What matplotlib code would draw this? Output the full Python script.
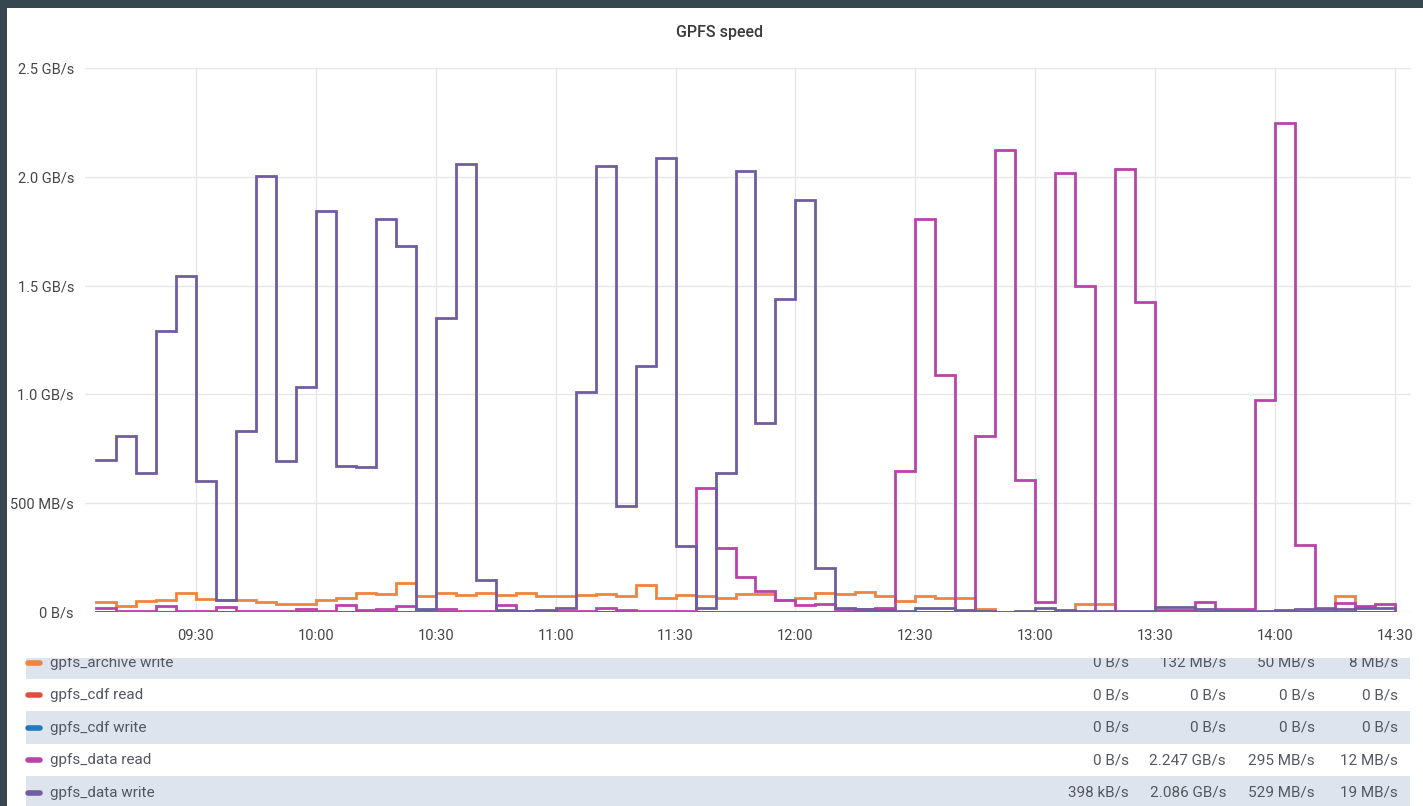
import matplotlib
matplotlib.use("Agg")
import matplotlib.pyplot as plt
import pandas as pd
from matplotlib.patches import Rectangle

# ---------------- data ----------------
times = pd.date_range("2021-01-01 09:05", "2021-01-01 14:30", freq="5min")

# GB/s, one value per 5-minute sample
archive_write = [0.044, 0.026, 0.052, 0.055, 0.089, 0.058, 0.053, 0.055, 0.046, 0.036,
                 0.039, 0.055, 0.066, 0.089, 0.083, 0.132, 0.075, 0.089, 0.079, 0.089,
                 0.077, 0.088, 0.072, 0.072, 0.077, 0.082, 0.072, 0.123, 0.066, 0.077,
                 0.072, 0.065, 0.085, 0.085, 0.057, 0.066, 0.088, 0.082, 0.092, 0.072,
                 0.050, 0.072, 0.066, 0.066, 0.015, 0.0, 0.0, 0.0, 0.0, 0.035,
                 0.035, 0.0, 0.0, 0.0, 0.0, 0.0, 0.0, 0.0, 0.0, 0.0,
                 0.0, 0.0, 0.075, 0.0, 0.0, 0.008]
cdf_read = [0.0] * 66
cdf_write = [0.0] * 66
data_read = [0.020, 0.004, 0.004, 0.026, 0.004, 0.004, 0.023, 0.004, 0.004, 0.004,
             0.015, 0.004, 0.034, 0.008, 0.015, 0.026, 0.004, 0.015, 0.004, 0.004,
             0.034, 0.004, 0.004, 0.004, 0.004, 0.020, 0.008, 0.004, 0.004, 0.004,
             0.570, 0.295, 0.160, 0.097, 0.054, 0.031, 0.038, 0.012, 0.012, 0.020,
             0.650, 1.805, 1.089, 0.0, 0.810, 2.123, 0.608, 0.046, 2.018, 1.500,
             0.0, 2.038, 1.423, 0.010, 0.010, 0.047, 0.012, 0.012, 0.972, 2.247,
             0.308, 0.020, 0.040, 0.028, 0.038, 0.012]
data_write = [0.700, 0.808, 0.638, 1.292, 1.542, 0.600, 0.054, 0.834, 2.003, 0.695,
              1.035, 1.842, 0.672, 0.665, 1.808, 1.680, 0.012, 1.349, 2.057, 0.149,
              0.008, 0.006, 0.008, 0.020, 1.010, 2.050, 0.485, 1.130, 2.086, 0.305,
              0.020, 0.638, 2.028, 0.869, 1.438, 1.895, 0.203, 0.020, 0.015, 0.010,
              0.006, 0.018, 0.018, 0.008, 0.004, 0.0004, 0.004, 0.020, 0.008, 0.006,
              0.005, 0.004, 0.006, 0.022, 0.022, 0.012, 0.006, 0.004, 0.005, 0.010,
              0.014, 0.016, 0.016, 0.018, 0.018, 0.019]

series_names = ["gpfs_archive write", "gpfs_cdf read", "gpfs_cdf write",
                "gpfs_data read", "gpfs_data write"]
series_values = [archive_write, cdf_read, cdf_write, data_read, data_write]
series_colors = ["#EF843C", "#E24D42", "#1F78C1", "#BA43A9", "#705DA0"]

legend_min = ["0 B/s", "0 B/s", "0 B/s", "0 B/s", "398 kB/s"]
legend_max = ["132 MB/s", "0 B/s", "0 B/s", "2.247 GB/s", "2.086 GB/s"]
legend_avg = ["50 MB/s", "0 B/s", "0 B/s", "295 MB/s", "529 MB/s"]
legend_cur = ["8 MB/s", "0 B/s", "0 B/s", "12 MB/s", "19 MB/s"]

y_ticks = [0.0, 0.5, 1.0, 1.5, 2.0, 2.5]
y_tick_labels = ["0 B/s", "500 MB/s", "1.0 GB/s", "1.5 GB/s", "2.0 GB/s", "2.5 GB/s"]
x_tick_times = ["09:30", "10:00", "10:30", "11:00", "11:30", "12:00", "12:30",
                "13:00", "13:30", "14:00", "14:30"]
title = "GPFS speed"

# ---------------- figure ----------------
plt.rcParams["font.family"] = ["Roboto", "DejaVu Sans"]
W, H = 1423, 806
fig = plt.figure(figsize=(W / 100, H / 100), dpi=100)
fig.patch.set_facecolor("#37474F")

# white panel
bg = fig.add_axes([7 / W, 0, 1 - 7 / W, 1 - 8 / H], zorder=-5)
bg.axis("off")
bg.add_patch(Rectangle((0, 0), 1, 1, transform=bg.transAxes, facecolor="white",
                       edgecolor="none"))

ax = fig.add_axes([85 / W, 1 - 612 / H, (1411 - 85) / W, (612 - 68) / H], zorder=2)
ax.patch.set_alpha(0)
for name, vals, col in zip(series_names, series_values, series_colors):
    ax.plot(times, vals, drawstyle="steps-post", color=col, lw=2.0,
            solid_joinstyle="miter")

ax.set_ylim(0, 2.5)
ax.set_xlim(pd.Timestamp("2021-01-01 09:02:15"), pd.Timestamp("2021-01-01 14:34:00"))
ax.set_yticks(y_ticks)
ax.set_yticklabels(y_tick_labels)
xt = [pd.Timestamp("2021-01-01 " + t) for t in x_tick_times]
ax.set_xticks(xt)
ax.set_xticklabels(x_tick_times)
ax.tick_params(axis="both", length=0, labelsize=10.5, labelcolor="#464646")
ax.tick_params(axis="y", pad=8)
ax.tick_params(axis="x", pad=12)
ax.grid(True, color="#e6e6e6", lw=1)
ax.set_axisbelow(True)
for s in ax.spines.values():
    s.set_visible(False)

fig.text(719 / W, 1 - 32 / H, title, ha="center", va="center", fontsize=11.5,
         color="#3a3a3a", fontweight="medium")

# ---------------- legend table (scrolled, first row partly hidden) ----------------
clip_top = 658
lax = fig.add_axes([0, 0, 1, (H - clip_top) / H], zorder=3)
lax.set_xlim(0, W)
lax.set_ylim(H, clip_top)
lax.axis("off")
row_h = 32.5
row_top0 = 646.5
for i, name in enumerate(series_names):
    top = row_top0 + i * row_h
    cy = top + row_h / 2
    if i % 2 == 0:
        lax.add_patch(Rectangle((26, top), 1410 - 26, row_h, facecolor="#dde4ed",
                                edgecolor="none", zorder=0))
    lax.plot([28, 40], [cy, cy], color=series_colors[i], lw=4, solid_capstyle="round")
    lax.text(50, cy, name, ha="left", va="center", fontsize=11, color="#555760",
             clip_on=True)
    for xr, vals in zip([1129, 1226, 1315, 1398],
                        [legend_min, legend_max, legend_avg, legend_cur]):
        lax.text(xr, cy, vals[i], ha="right", va="center", fontsize=11,
                 color="#555760", clip_on=True)

fig.savefig("out.png", dpi=100, facecolor=fig.get_facecolor())
